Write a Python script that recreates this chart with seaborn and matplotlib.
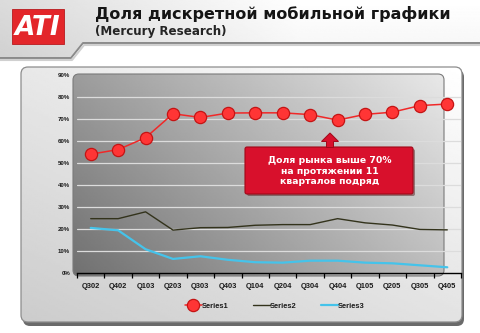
import numpy as np
import pandas as pd
import matplotlib
matplotlib.use("Agg")
import matplotlib.pyplot as plt
from matplotlib.patches import FancyBboxPatch, Polygon
from matplotlib.ticker import FixedLocator
import seaborn as sns

# Discrete mobile graphics share by quarter, %
quarters = ["Q302", "Q402", "Q103", "Q203", "Q303", "Q403", "Q104",
            "Q204", "Q304", "Q404", "Q105", "Q205", "Q305", "Q405"]
series1 = [54.0, 56.1, 61.5, 72.4, 70.7, 72.7, 72.8, 72.8, 72.0, 69.5, 72.1, 73.1, 76.1, 76.8]
series2 = [24.7, 24.7, 27.8, 19.5, 20.6, 20.7, 21.7, 22.0, 22.0, 24.7, 22.8, 21.8, 19.8, 19.6]
series3 = [20.5, 19.4, 10.8, 6.4, 7.6, 6.0, 4.9, 4.7, 5.6, 5.6, 4.7, 4.4, 3.5, 2.6]
series_names = ["Series1", "Series2", "Series3"]
y_ticks = [0, 10, 20, 30, 40, 50, 60, 70, 80, 90]

title = "Доля дискретной мобильной графики"
subtitle = "(Mercury Research)"
callout = "Доля рынка выше 70%\nна протяжении 11\nкварталов подряд"

sns.set_theme(style="white")
plt.rcParams["font.family"] = ["DejaVu Sans"]

W, H = 480, 333
fig = plt.figure(figsize=(W / 100, H / 100), dpi=100)
fig.patch.set_facecolor("white")

# pixel-space background layer
bg = fig.add_axes([0, 0, 1, 1], zorder=0)
bg.set_xlim(0, W)
bg.set_ylim(H, 0)
bg.axis("off")

# header band with gradient and stepped lower edge
hdr = Polygon([(0, 0), (W, 0), (W, 43), (83, 43), (71, 58), (0, 58)],
              closed=True, facecolor="none", edgecolor="none")
bg.add_patch(hdr)
gx = np.linspace(0, 1, 256)[None, :]
gy = np.linspace(0, 1, 64)[:, None]
hgrad = 0.86 + 0.14 * np.clip(gx * 1.6, 0, 1) - 0.04 * gy
im = bg.imshow(hgrad, cmap="gray", vmin=0, vmax=1, extent=(0, W, 58, 0),
               aspect="auto", zorder=1)
im.set_clip_path(hdr)
bg.plot([0, 71, 83, W], [58, 58, 43, 43], color="#8a8a8a", lw=1.4, zorder=2,
        solid_capstyle="butt")
bg.plot([0, 72, 84, W], [60, 60, 45, 45], color="#d0d0d0", lw=1.5, zorder=2)

# ATI logo
bg.add_patch(FancyBboxPatch((12, 9), 52, 35, boxstyle="square,pad=0",
                            facecolor="#e3262a", edgecolor="#b81a1e", lw=0.6, zorder=3))
bg.text(38, 28, "ATI", color="white", fontsize=19, fontweight="bold",
        style="italic", ha="center", va="center", zorder=4)

bg.text(95, 14, title, fontsize=11.5, fontweight="bold", color="#151515",
        ha="left", va="center", zorder=4)
bg.text(95, 31, subtitle, fontsize=8.6, fontweight="bold", color="#252525",
        ha="left", va="center", zorder=4)

# outer panel with shadow
bg.add_patch(FancyBboxPatch((23, 70), 441, 256, boxstyle="round,pad=0,rounding_size=7",
                            facecolor="#6a6a6a", edgecolor="none", zorder=1))
panel = FancyBboxPatch((21, 67), 441, 255, boxstyle="round,pad=0,rounding_size=7",
                       facecolor="none", edgecolor="#8c8c8c", lw=0.9, zorder=3)
bg.add_patch(panel)
px = np.linspace(0, 1, 256)[None, :]
py = np.linspace(0, 1, 128)[:, None]
pgrad = np.clip(0.80 + 0.09 * px + 0.11 * (1 - py), 0, 1)
pim = bg.imshow(pgrad, cmap="gray", vmin=0, vmax=1, extent=(21, 462, 322, 67),
                aspect="auto", zorder=2)
pim.set_clip_path(panel)

# inner plot box, darker towards the lower left corner
box = FancyBboxPatch((73, 74), 371, 202, boxstyle="round,pad=0,rounding_size=6",
                     facecolor="none", edgecolor="#7a7a7a", lw=0.8, zorder=5)
bg.add_patch(box)
bgrad = np.clip(0.44 + 0.30 * px + 0.17 * (1 - py), 0, 1)
bim = bg.imshow(bgrad, cmap="gray", vmin=0, vmax=1, extent=(73, 444, 276, 74),
                aspect="auto", zorder=4)
bim.set_clip_path(box)

# data axes
ax = fig.add_axes([77 / W, (H - 273) / H, 384 / W, 198 / H], zorder=2)
ax.patch.set_alpha(0)

df = pd.DataFrame({"quarter": quarters, "Series1": series1,
                   "Series2": series2, "Series3": series3})
df["pos"] = np.arange(len(quarters))

sns.lineplot(data=df, x="pos", y="Series1", ax=ax, color="#f02828", lw=1.1,
             marker="o", markersize=8.8, markerfacecolor="#ff3535",
             markeredgecolor="#c41414", markeredgewidth=0.9, label=series_names[0],
             zorder=5)
sns.lineplot(data=df, x="pos", y="Series2", ax=ax, color="#33331c", lw=1.0,
             label=series_names[1], zorder=4)
sns.lineplot(data=df, x="pos", y="Series3", ax=ax, color="#45c3ea", lw=1.6,
             label=series_names[2], zorder=4)

ax.set_xlim(-0.5, len(quarters) - 0.5)
ax.set_ylim(y_ticks[0], y_ticks[-1])
ax.set_xlabel("")
ax.set_ylabel("")
ax.set_xticks(df["pos"])
ax.set_xticklabels(quarters)
ax.xaxis.set_minor_locator(FixedLocator(np.arange(-0.5, len(quarters), 1.0)))
ax.tick_params(axis="x", which="major", length=0, pad=7, labelsize=5.4,
               labelcolor="#1a1a1a")
ax.tick_params(axis="x", which="minor", length=3.5, width=0.9, color="black",
               direction="out", bottom=True)
ax.set_yticks(y_ticks)
ax.set_yticklabels([f"{v}%" for v in y_ticks])
ax.tick_params(axis="y", length=0, pad=5, labelsize=4.4, labelcolor="#1a1a1a")
for lab in ax.get_xticklabels() + ax.get_yticklabels():
    lab.set_fontfamily("Liberation Sans")
    lab.set_fontweight("bold")

for v in y_ticks[1:-1]:
    ax.axhline(v, color="#dcdcdc", lw=0.9, zorder=1)
for side in ["top", "right", "left"]:
    ax.spines[side].set_visible(False)
ax.spines["bottom"].set_color("black")
ax.spines["bottom"].set_linewidth(1.0)

leg = ax.legend(loc="center", ncol=3, frameon=False, handlelength=2.2,
                handletextpad=0.1, columnspacing=3.2,
                prop={"family": "Liberation Sans", "weight": "bold", "size": 5.4})
leg.set_bbox_to_anchor((275 / W, 27 / H), transform=fig.transFigure)
for t in leg.get_texts():
    t.set_color("#1a1a1a")

# callout layer
fg = fig.add_axes([0, 0, 1, 1], zorder=3)
fg.set_xlim(0, W)
fg.set_ylim(H, 0)
fg.axis("off")
fg.patch.set_alpha(0)
fg.add_patch(FancyBboxPatch((247, 149), 168, 47, boxstyle="round,pad=0,rounding_size=2",
                            facecolor="#5a2020", edgecolor="none", alpha=0.5))
cbox = FancyBboxPatch((245, 147), 168, 47, boxstyle="round,pad=0,rounding_size=2",
                      facecolor="#d8102c", edgecolor="#a00818", lw=0.8)
fg.add_patch(cbox)
fg.add_patch(Polygon([(326.5, 147.5), (326.5, 141.5), (321.5, 141.5), (330, 133),
                      (338.5, 141.5), (333.5, 141.5), (333.5, 147.5)],
                     closed=True, facecolor="#d8102c", edgecolor="#a00818", lw=0.7))
fg.text(330, 171, callout, color="white", fontsize=6.7, fontweight="bold",
        ha="center", va="center", linespacing=1.25)

fig.savefig("out.png", dpi=100, facecolor="white")
